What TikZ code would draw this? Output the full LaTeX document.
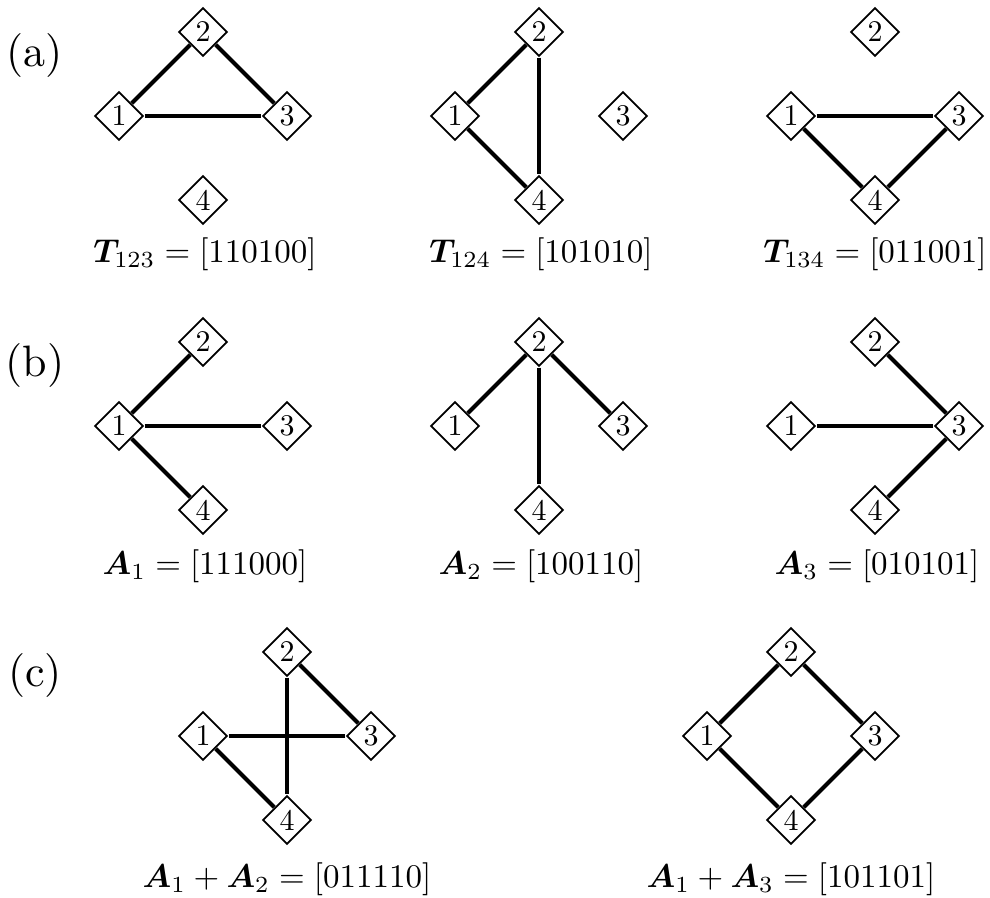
\documentclass[tikz,border=0pt]{standalone}
\usepackage{amsmath}
\usepackage{amssymb}
\usepackage{bm}
\usepackage{tikz}
\usetikzlibrary{shapes.geometric, positioning}

\begin{document}
\begin{tikzpicture}[
  x=0.5pt, y=0.5pt,
  vert/.style={diamond, draw=black, fill=white, line width=0.85pt, aspect=1,
               minimum size=16.3pt, inner sep=0pt, scale=1.5},
  edge/.style={line width=2pt, black},
  vec/.style={anchor=base, inner sep=0pt, scale=1.65},
  tag/.style={anchor=base, inner sep=0pt, scale=2.2},
]
\useasboundingbox (0,0) rectangle (990,898);

% (a) triangles
\node[tag] (tagA) at (35,831) {(a)};
\node[vert] (ta1) at (119,782) {1};
\node[vert] (ta2) at (203,866) {2};
\node[vert] (ta3) at (287,782) {3};
\node[vert] (ta4) at (203,698) {4};
\node[vec] (la) at (205,635) {$\bm{T}_{123} = [110100]$};

\node[vert] (tb1) at (455,782) {1};
\node[vert] (tb2) at (539,866) {2};
\node[vert] (tb3) at (623,782) {3};
\node[vert] (tb4) at (539,698) {4};
\node[vec] (lb) at (541,635) {$\bm{T}_{124} = [101010]$};

\node[vert] (tc1) at (791,782) {1};
\node[vert] (tc2) at (875,866) {2};
\node[vert] (tc3) at (959,782) {3};
\node[vert] (tc4) at (875,698) {4};
\node[vec] (lc) at (875,635) {$\bm{T}_{134} = [011001]$};

\draw[edge] (ta1) -- (ta2);
\draw[edge] (ta2) -- (ta3);
\draw[edge] (ta1) -- (ta3);
\draw[edge] (tb1) -- (tb2);
\draw[edge] (tb1) -- (tb4);
\draw[edge] (tb2) -- (tb4);
\draw[edge] (tc1) -- (tc3);
\draw[edge] (tc1) -- (tc4);
\draw[edge] (tc3) -- (tc4);

% (b) stars
\node[tag] (tagB) at (35,521) {(b)};
\node[vert] (aa1) at (119,472) {1};
\node[vert] (aa2) at (203,556) {2};
\node[vert] (aa3) at (287,472) {3};
\node[vert] (aa4) at (203,388) {4};
\node[vec] (ld) at (205,323) {$\bm{A}_{1} = [111000]$};

\node[vert] (ab1) at (455,472) {1};
\node[vert] (ab2) at (539,556) {2};
\node[vert] (ab3) at (623,472) {3};
\node[vert] (ab4) at (539,388) {4};
\node[vec] (le) at (541,323) {$\bm{A}_{2} = [100110]$};

\node[vert] (ac1) at (791,472) {1};
\node[vert] (ac2) at (875,556) {2};
\node[vert] (ac3) at (959,472) {3};
\node[vert] (ac4) at (875,388) {4};
\node[vec] (lf) at (877,323) {$\bm{A}_{3} = [010101]$};

\draw[edge] (aa1) -- (aa2);
\draw[edge] (aa1) -- (aa3);
\draw[edge] (aa1) -- (aa4);
\draw[edge] (ab2) -- (ab1);
\draw[edge] (ab2) -- (ab3);
\draw[edge] (ab2) -- (ab4);
\draw[edge] (ac3) -- (ac1);
\draw[edge] (ac3) -- (ac2);
\draw[edge] (ac3) -- (ac4);

% (c) sums
\node[tag] (tagC) at (35,211) {(c)};
\node[vert] (sa1) at (203,162) {1};
\node[vert] (sa2) at (287,246) {2};
\node[vert] (sa3) at (371,162) {3};
\node[vert] (sa4) at (287,78) {4};
\node[vec] (lg) at (287,10) {$\bm{A}_{1} + \bm{A}_{2} = [011110]$};

\node[vert] (sb1) at (707,162) {1};
\node[vert] (sb2) at (791,246) {2};
\node[vert] (sb3) at (875,162) {3};
\node[vert] (sb4) at (791,78) {4};
\node[vec] (lh) at (791,10) {$\bm{A}_{1} + \bm{A}_{3} = [101101]$};

\draw[edge] (sa1) -- (sa3);
\draw[edge] (sa1) -- (sa4);
\draw[edge] (sa2) -- (sa3);
\draw[edge] (sa2) -- (sa4);
\draw[edge] (sb1) -- (sb2);
\draw[edge] (sb1) -- (sb4);
\draw[edge] (sb2) -- (sb3);
\draw[edge] (sb3) -- (sb4);

\end{tikzpicture}
\end{document}
